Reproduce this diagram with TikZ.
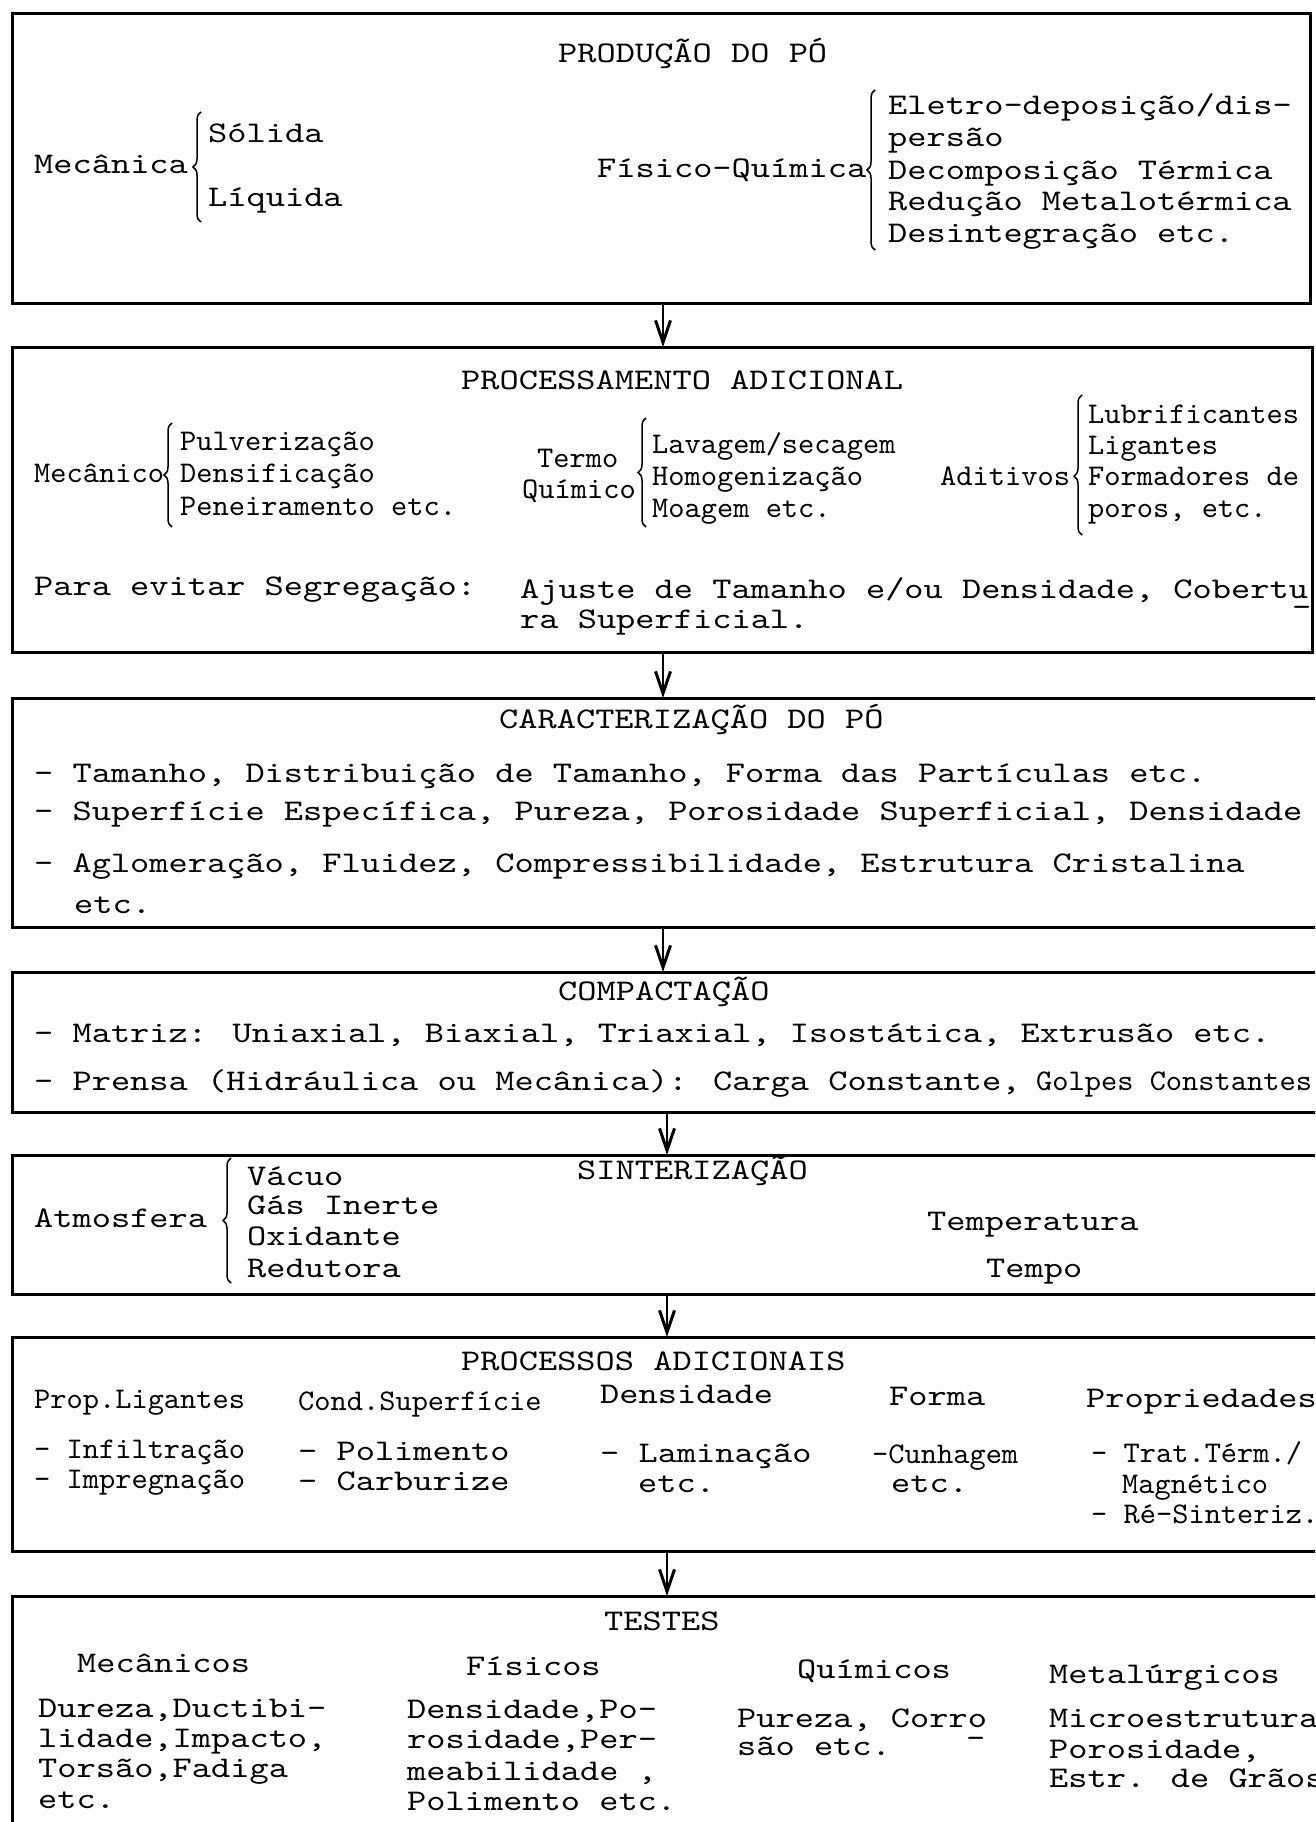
\documentclass[tikz,border=0pt]{standalone}
\usepackage{fontspec}
\newfontfamily\tw[FakeStretch=1.22]{lmmono10-regular.otf}
\newfontfamily\cnd[FakeStretch=1.03]{lmmono10-regular.otf}
\usetikzlibrary{arrows.meta,decorations.pathreplacing}
\begin{document}
\begin{tikzpicture}[x=1pt,y=-1pt,
  box/.style={draw, line width=3pt, anchor=north west, inner sep=0pt, outer sep=0pt},
  t/.style={anchor=base west, inner sep=0pt, font=\tw\fontsize{30}{34}\selectfont},
  c/.style={anchor=base west, inner sep=0pt, font=\cnd\fontsize{30}{34}\selectfont},
  brc/.style={decorate, decoration={brace, amplitude=8pt}, line width=1.5pt},
  arr/.style={line width=2.5pt, -{Straight Barb[length=22pt,width=15pt,line width=3pt]}}]
\useasboundingbox (0,0) rectangle (1315,1822);
\clip (0,0) rectangle (1315,1822);
\fill[white] (0,0) rectangle (1315,1822);

% boxes
\node[box, minimum width=1298pt, minimum height=289pt] (b1) at (12,14) {};
\node[box, minimum width=1300pt, minimum height=305pt] (b2) at (12,347) {};
\node[box, minimum width=1318pt, minimum height=229pt] (b3) at (12,698) {};
\node[box, minimum width=1318pt, minimum height=140pt] (b4) at (12,972) {};
\node[box, minimum width=1318pt, minimum height=139pt] (b5) at (12,1155) {};
\node[box, minimum width=1318pt, minimum height=214pt] (b6) at (12,1337) {};
\node[box, minimum width=1318pt, minimum height=320pt] (b7) at (12,1596) {};

\coordinate (ax1) at (663,0);
\coordinate (ax2) at (667,0);
\draw[arr] (b1.south -| ax1) -- (b2.north -| ax1);
\draw[arr] (b2.south -| ax1) -- (b3.north -| ax1);
\draw[arr] (b3.south -| ax1) -- (b4.north -| ax1);
\draw[arr] (b4.south -| ax2) -- (b5.north -| ax2);
\draw[arr] (b5.south -| ax2) -- (b6.north -| ax2);
\draw[arr] (b6.south -| ax2) -- (b7.north -| ax2);

% ---- box 1
\node[t] (h1) at (558,63) {PRODUÇÃO DO PÓ};
\node[t] (mec) at (34,174) {Mecânica};
\coordinate (br1a) at (201,222); \coordinate (br1b) at (201,112);
\draw[brc] (br1a) -- (br1b);
\node[t] (sol) at (208,143) {Sólida};
\node[t] (liq) at (208,207) {Líquida};
\node[t] (fq) at (597,178) {Físico-Química};
\coordinate (br2a) at (875,250); \coordinate (br2b) at (875,90);
\draw[brc] (br2a) -- (br2b);
\node[t] (fq1) at (888,115) {Eletro-deposição/dis-};
\node[t] (fq2) at (888,147) {persão};
\node[t] (fq3) at (888,180) {Decomposição Térmica};
\node[t] (fq4) at (888,211) {Redução Metalotérmica};
\node[t] (fq5) at (888,242) {Desintegração etc.};

% ---- box 2
\node[t] (h2) at (461,389) {PROCESSAMENTO ADICIONAL};
\node[c] (mec2) at (34,482) {Mecânico};
\coordinate (br3a) at (172,527); \coordinate (br3b) at (172,423);
\draw[brc] (br3a) -- (br3b);
\node[c] (m1) at (180,450) {Pulverização};
\node[c] (m2) at (180,482) {Densificação};
\node[c] (m3) at (180,515) {Peneiramento etc.};
\node[c] (tq1) at (537,467) {Termo};
\node[c] (tq2) at (522,498) {Químico};
\coordinate (br4a) at (646,527); \coordinate (br4b) at (646,418);
\draw[brc] (br4a) -- (br4b);
\node[c] (q1) at (652,453) {Lavagem/secagem};
\node[c] (q2) at (652,485) {Homogenização};
\node[c] (q3) at (652,517) {Moagem etc.};
\node[c] (adt) at (940,485) {Aditivos};
\coordinate (br5a) at (1082,535); \coordinate (br5b) at (1082,395);
\draw[brc, decoration={brace, amplitude=8pt, aspect=0.42}] (br5a) -- (br5b);
\node[c] (a1) at (1088,423) {Lubrificantes};
\node[c] (a2) at (1088,454) {Ligantes};
\node[c] (a3) at (1088,485) {Formadores de};
\node[c] (a4) at (1088,517) {poros, etc.};
\node[t] (seg) at (34,595) {Para evitar Segregação:};
\node[t] (aj1) at (520,598) {Ajuste de Tamanho e/ou Densidade, Cobertu};
\node[t] (ajh) at (1292,616) {-};
\node[t] (aj2) at (520,628) {ra Superficial.};

% ---- box 3
\node[t] (h3) at (499,728) {CARACTERIZAÇÃO DO PÓ};
\node[t] (c1) at (34,782) {- Tamanho, Distribuição de Tamanho, Forma das Partículas etc.};
\node[t] (c2) at (34,820) {- Superfície Específica, Pureza, Porosidade Superficial, Densidade};
\node[t] (c3) at (34,872) {- Aglomeração, Fluidez, Compressibilidade, Estrutura Cristalina};
\node[t] (c4) at (74,913) {etc.};

% ---- box 4
\node[t] (h4) at (558,1000) {COMPACTAÇÃO};
\node[t] (p1) at (34,1042) {- Matriz: Uniaxial, Biaxial, Triaxial, Isostática, Extrusão etc.};
\node[t] (p2) at (34,1090) {- Prensa (Hidráulica ou Mecânica): Carga Constante,};
\node[c] (p3) at (1036,1090) {Golpes Constantes};

% ---- box 5
\node[t] (h5) at (577,1179) {SINTERIZAÇÃO};
\node[t] (atm) at (34,1227) {Atmosfera};
\coordinate (br6a) at (231,1283); \coordinate (br6b) at (231,1158);
\draw[brc] (br6a) -- (br6b);
\node[t] (s1) at (247,1185) {Vácuo};
\node[t] (s2) at (247,1214) {Gás Inerte};
\node[t] (s3) at (247,1245) {Oxidante};
\node[t] (s4) at (247,1277) {Redutora};
\node[t] (temp) at (927,1230) {Temperatura};
\node[t] (tempo) at (986,1277) {Tempo};

% ---- box 6
\node[t] (h6) at (461,1370) {PROCESSOS ADICIONAIS};
\node[c] (k1) at (34,1408) {Prop.Ligantes};
\node[c] (k2) at (298,1410) {Cond.Superfície};
\node[t] (k3) at (600,1403) {Densidade};
\node[t] (k4) at (889,1405) {Forma};
\node[t] (k5) at (1086,1407) {Propriedades};
\node[c] (k1a) at (34,1458) {- Infiltração};
\node[c] (k1b) at (34,1488) {- Impregnação};
\node[t] (k2a) at (298,1460) {- Polimento};
\node[t] (k2b) at (298,1490) {- Carburize};
\node[t] (k3a) at (600,1462) {- Laminação};
\node[t] (k3b) at (638,1492) {etc.};
\node[c] (k4a) at (872,1463) {-Cunhagem};
\node[t] (k4b) at (891,1492) {etc.};
\node[c] (k5a) at (1091,1462) {- Trat.Térm./};
\node[c] (k5b) at (1122,1493) {Magnético};
\node[c] (k5c) at (1091,1523) {- Ré-Sinteriz.};

% ---- box 7
\node[t] (h7) at (604,1630) {TESTES};
\node[t] (e1) at (77,1672) {Mecânicos};
\node[t] (e2) at (466,1675) {Físicos};
\node[t] (e3) at (797,1678) {Químicos};
\node[t] (e4) at (1049,1683) {Metalúrgicos};
\node[t] (e1a) at (38,1717) {Dureza,Ductibi-};
\node[t] (e1b) at (38,1747) {lidade,Impacto,};
\node[t] (e1c) at (38,1777) {Torsão,Fadiga};
\node[t] (e1d) at (38,1808) {etc.};
\node[t] (e2a) at (407,1718) {Densidade,Po-};
\node[t] (e2b) at (407,1748) {rosidade,Per-};
\node[t] (e2c) at (407,1780) {meabilidade ,};
\node[t] (e2d) at (407,1810) {Polimento etc.};
\node[t] (e3a) at (737,1727) {Pureza, Corro};
\node[t] (e3h) at (966,1747) {-};
\node[t] (e3b) at (737,1755) {são etc.};
\node[t] (e4a) at (1049,1727) {Microestrutura};
\node[t] (e4b) at (1049,1758) {Porosidade,};
\node[t] (e4c) at (1049,1787) {Estr. de Grãos};
\end{tikzpicture}
\end{document}
